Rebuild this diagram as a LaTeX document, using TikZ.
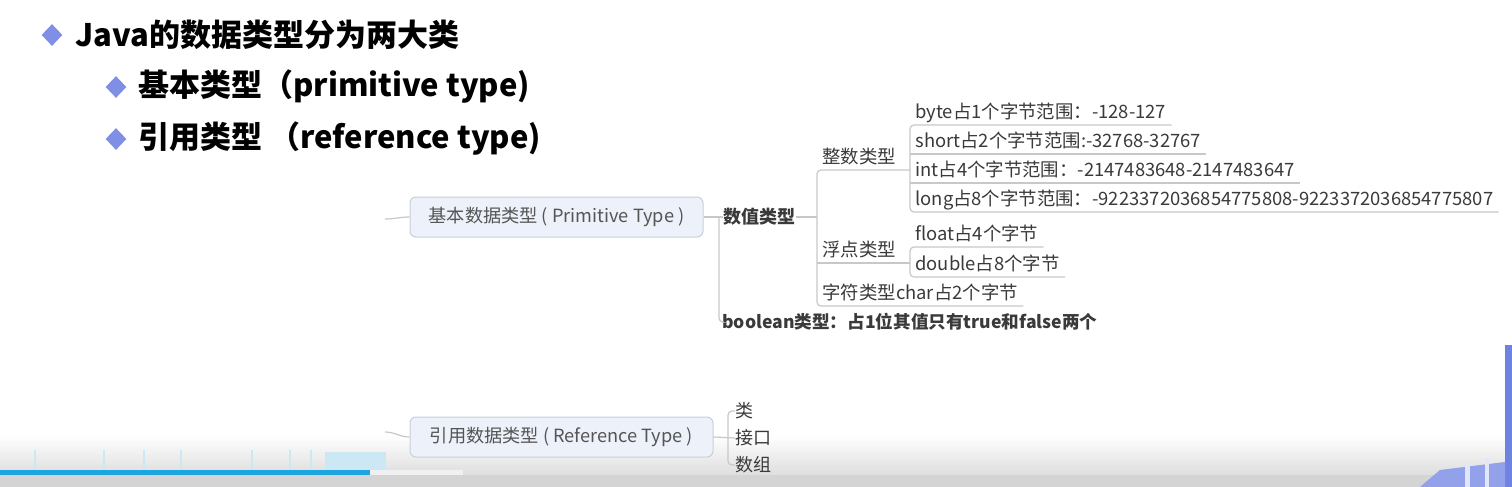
\documentclass[tikz,border=0pt]{standalone}
\usepackage{fontspec}
\setmainfont{Noto Sans CJK SC}
\usetikzlibrary{shapes.geometric}
\definecolor{bul}{HTML}{7F8FE6}
\definecolor{linec}{HTML}{C8C8C8}
\definecolor{boxfill}{HTML}{EDF1FA}
\definecolor{boxline}{HTML}{C8CFDC}
\definecolor{txt}{HTML}{3A3A3A}
\definecolor{boxtxt}{HTML}{555555}
\definecolor{prog}{HTML}{1DA5E1}
\definecolor{sideblue}{HTML}{6E82E2}
\definecolor{faintblue}{HTML}{CBE8F4}
\begin{document}
\begin{tikzpicture}[x=0.5pt,y=-0.5pt,
  bullet/.style={diamond,fill=bul,inner sep=0pt,minimum width=10.5pt,minimum height=11pt},
  head/.style={anchor=west,inner sep=0pt,font=\fontsize{15.5pt}{18pt}\selectfont\bfseries},
  topbox/.style={draw=boxline,fill=boxfill,rounded corners=3pt,line width=0.5pt,minimum height=20pt,text=boxtxt,font=\fontsize{9.1pt}{11pt}\selectfont},
  item/.style={anchor=south west,inner xsep=2.5pt,inner ysep=1.5pt,text height=7pt,text depth=1.5pt,text=txt,font=\fontsize{9.2pt}{10pt}\selectfont},
  lvl/.style={anchor=west,inner sep=0pt,text=txt,font=\fontsize{9pt}{11pt}\selectfont},
  conn/.style={draw=linec,line width=0.6pt,rounded corners=2pt},
]
\useasboundingbox (0,0) rectangle (1512,487);
\fill[white] (0,0) rectangle (1512,487);
% video overlay fade (background)
\shade[top color=white,bottom color=black!13] (0,435) rectangle (1512,475);

% headings
\node[bullet] (b1) at (52,35) {};
\node[head] (h1) at (75,35) {Java的数据类型分为两大类};
\node[bullet] (b2) at (116,87) {};
\node[head] (h2) at (138,87) {基本类型（primitive type)};
\node[bullet] (b3) at (116,139) {};
\node[head] (h3) at (138,139) {引用类型 （reference type)};

% primitive branch
\coordinate (s1) at (385,219);
\node[topbox,minimum width=146.5pt] (box1) at (556.5,217) {基本数据类型 ( Primitive Type )};
\draw[conn] (s1) to[out=0,in=180] (box1.west);
\node[lvl,font=\fontsize{9pt}{11pt}\selectfont\bfseries] (num) at (723,217) {数值类型};
\node[lvl,font=\fontsize{8.8pt}{11pt}\selectfont\bfseries] (bool) at (722,322) {boolean类型：占1位其值只有true和false两个};
\coordinate (j1) at (719,217);
\draw[conn] (box1.east) -- (num.west);
\draw[conn] (j1) |- (bool.west);

\node[item] (zs) at (817,170) {整数类型};
\node[item] (fd) at (817,263) {浮点类型};
\node[item] (zc) at (817,306) {字符类型char占2个字节};

\node[item] (byte) at (910,125) {byte占1个字节范围：-128-127};
\node[item] (short) at (910,154) {short占2个字节范围:-32768-32767};
\node[item] (int) at (910,183) {int占4个字节范围：-2147483648-2147483647};
\node[item] (long) at (910,212) {long占8个字节范围：-9223372036854775808-9223372036854775807};
\node[item] (float) at (910,247) {float占4个字节};
\node[item] (double) at (910,277) {double占8个字节};

\draw[conn] (num.east) -- (num.east -| zs.south west);
\draw[conn] (zs.south west -| byte.south west) -- (zs.south west) -- (zc.south west) -- (zc.south east);
\draw[conn] (fd.south west) -- (fd.south west -| float.south west);
\draw[conn] (byte.south east) -- (byte.south west) -- (long.south west) -- (long.south east);
\draw[conn] (short.south west) -- (short.south east);
\draw[conn] (int.south west) -- (int.south east);
\draw[conn] (float.south east) -- (float.south west) -- (double.south west) -- (double.south east);

% reference branch
\coordinate (s2) at (385,432);
\node[topbox,minimum width=151.5pt] (box2) at (561.5,437) {引用数据类型 ( Reference Type )};
\draw[conn] (s2) to[out=0,in=180] (box2.west);
\node[lvl] (lei) at (735,411) {类};
\node[lvl] (jk) at (735,438) {接口};
\node[lvl] (sz) at (735,465) {数组};
\coordinate (j2) at (728,438);
\draw[conn] (box2.east) -- (jk.west);
\draw[conn] (lei.west) -| (j2) |- (sz.west);

% video player overlay
\foreach \xx in {34,103,143,180,251,289,310}
  \fill[faintblue] (\xx,450) rectangle ++(2,20);
\fill[faintblue] (325,452) rectangle (386,470);
\fill[black!17] (0,475) rectangle (1512,487);
\fill[black!6] (370,470) rectangle (463,475);
\fill[prog] (0,470) rectangle (370,475);
\fill[sideblue] (1505,345) rectangle (1512,487);
\fill[sideblue!75] (1420,487) -- (1440,470) -- (1505,462) -- (1505,487) -- cycle;
\fill[white!80!sideblue] (1465,462) rectangle (1470,487);
\fill[white!80!sideblue] (1485,458) rectangle (1489,487);
\end{tikzpicture}
\end{document}
